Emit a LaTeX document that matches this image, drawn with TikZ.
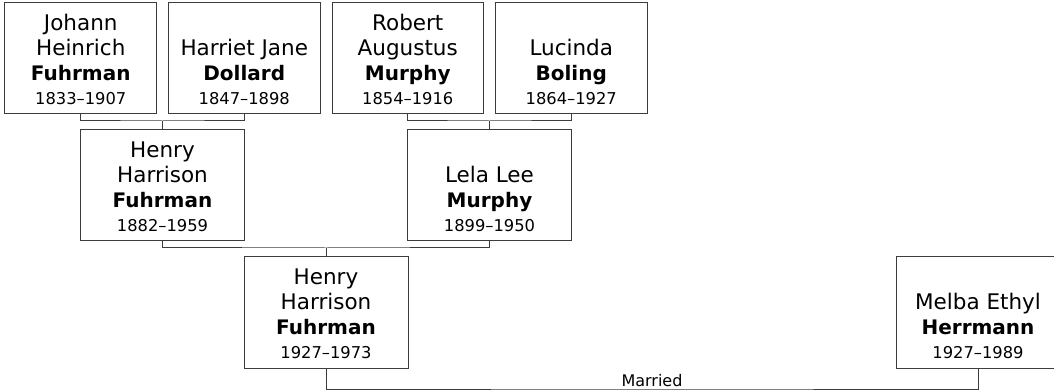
\documentclass[tikz,border=0pt]{standalone}
\usepackage{fontspec}
\setmainfont{DejaVu Sans}
\usepackage{xcolor}
\usepackage{tikz}
\usetikzlibrary{positioning, calc}
\definecolor{linegray}{RGB}{60,60,60}
\newcommand{\famname}[3]{%
  \parbox[c][93pt][b]{150pt}{\centering
    \fontsize{21.5pt}{25pt}\selectfont #1\par
    \fontsize{20pt}{25pt}\selectfont\textbf{#2}\par
    \fontsize{16.3pt}{24pt}\selectfont #3\par}}
\tikzset{
  box/.style={
    draw=linegray,
    line width=1pt,
    inner sep=0pt,
    outer sep=0pt,
    minimum width=151.5pt,
    minimum height=111pt
  },
  widebox/.style={box, minimum width=164pt},
  link/.style={draw=linegray, line width=1pt}
}
\begin{document}
\begin{tikzpicture}[
    node distance=16pt and 12pt
]
% page frame (johann sits at the origin)
\useasboundingbox (-80.75pt,58.5pt) rectangle ++(1054pt,-390pt);

\node[box] (johann)
{\famname{Johann\\Heinrich}{Fuhrman}{1833--1907}};

\node[box, right=of johann] (harriet)
{\famname{Harriet Jane}{Dollard}{1847--1898}};

\node[box, right=of harriet] (robert)
{\famname{Robert\\Augustus}{Murphy}{1854--1916}};

\node[box, right=of robert] (lucinda)
{\famname{Lucinda}{Boling}{1864--1927}};

\node[widebox, below=of $(johann.south)!0.5!(harriet.south)$] (henry)
{\famname{Henry\\Harrison}{Fuhrman}{1882--1959}};

\node[widebox, below=of $(robert.south)!0.5!(lucinda.south)$] (lela)
{\famname{Lela Lee}{Murphy}{1899--1950}};

\node[widebox, below=of $(henry.south)!0.5!(lela.south)$] (henryjr)
{\famname{Henry\\Harrison}{Fuhrman}{1927--1973}};

\node[widebox, right=488pt of henryjr] (melba)
{\famname{Melba Ethyl}{Herrmann}{1927--1989}};

% family bars
\coordinate (fuhrbar) at ($(johann.south)!0.5!(harriet.south)+(0,-7pt)$);
\coordinate (murbar) at ($(robert.south)!0.5!(lucinda.south)+(0,-7pt)$);
\coordinate (kidbar) at ($(henry.south)!0.5!(lela.south)+(0,-7pt)$);
\coordinate (wedbar) at ($(henryjr.south)!0.5!(melba.south)+(0,-21pt)$);

\draw[link] (johann.south) |- (fuhrbar) -| (harriet.south);
\draw[link] (fuhrbar) -- (henry.north);
\draw[link] (robert.south) |- (murbar) -| (lucinda.south);
\draw[link] (murbar) -- (lela.north);
\draw[link] (henry.south) |- (kidbar) -| (lela.south);
\draw[link] (kidbar) -- (henryjr.north);
\draw[link] (henryjr.south) |- (wedbar)
  node[above, inner sep=1.5pt, font=\fontsize{16pt}{19pt}\selectfont] (married) {Married}
  -| (melba.south);

\end{tikzpicture}
\end{document}
